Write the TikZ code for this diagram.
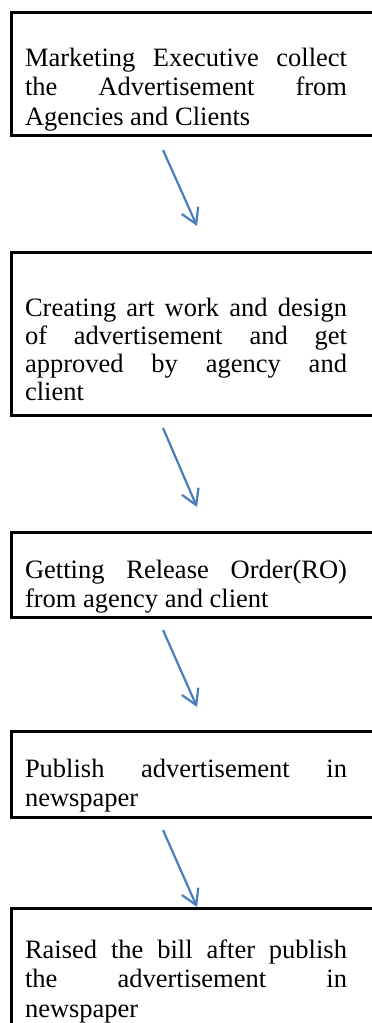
\documentclass[tikz,border=0pt]{standalone}
\usepackage{fontspec}
\setmainfont{Liberation Serif}
\usetikzlibrary{arrows.meta}
\definecolor{arrowblue}{HTML}{4A7EBB}
\begin{document}
\begin{tikzpicture}[x=1pt,y=-1pt,
  box/.style={draw, line width=3pt, inner sep=0pt, outer sep=0pt, anchor=north west, minimum width=380pt},
  txt/.style={anchor=north west, inner sep=0pt, outer sep=0pt, text width=322pt, align=justify,
    font=\fontsize{26.5}{29.5}\selectfont,
    execute at begin node={\parindent=0pt\tolerance=10000\hbadness=10000\hyphenpenalty=10000\strut}},
  flow/.style={draw=arrowblue, line width=2.2pt, -{Straight Barb[length=15pt,width=18pt]}}]
\useasboundingbox (0,0) rectangle (372,1023);
% boxes
\node[box, minimum height=123pt] (b1) at (11.5,12.5) {};
\node[box, minimum height=163pt] (b2) at (11.5,252) {};
\node[box, minimum height=85pt] (b3) at (11.5,532) {};
\node[box, minimum height=86pt] (b4) at (11.5,731) {};
\node[box, minimum height=132pt] (b5) at (11.5,908) {};
% texts
\node[txt] (t1) at (25,45.35) {Marketing Executive collect\linebreak the Advertisement from\linebreak Agencies and Clients};
\node[txt, font=\fontsize{26.5}{28}\selectfont] (t2) at (25,296.4) {Creating art work and design\linebreak of advertisement and get\linebreak approved by agency and\linebreak client};
\node[txt] (t3) at (25,557.35) {Getting Release Order(RO)\linebreak from agency and client};
\node[txt] (t4) at (25,756.35) {Publish advertisement in\linebreak newspaper};
\node[txt] (t5) at (25,937.35) {Raised the bill after publish\linebreak the advertisement in\linebreak newspaper};
% arrows
\coordinate (a1s) at (163,150); \coordinate (a1e) at (197,226);
\coordinate (a2s) at (163,428); \coordinate (a2e) at (197,507);
\coordinate (a3s) at (163,630); \coordinate (a3e) at (197,707);
\coordinate (a4s) at (163,830); \coordinate (a4e) at (197,907);
\draw[flow] (a1s) -- (a1e);
\draw[flow] (a2s) -- (a2e);
\draw[flow] (a3s) -- (a3e);
\draw[flow] (a4s) -- (a4e);
\end{tikzpicture}
\end{document}
